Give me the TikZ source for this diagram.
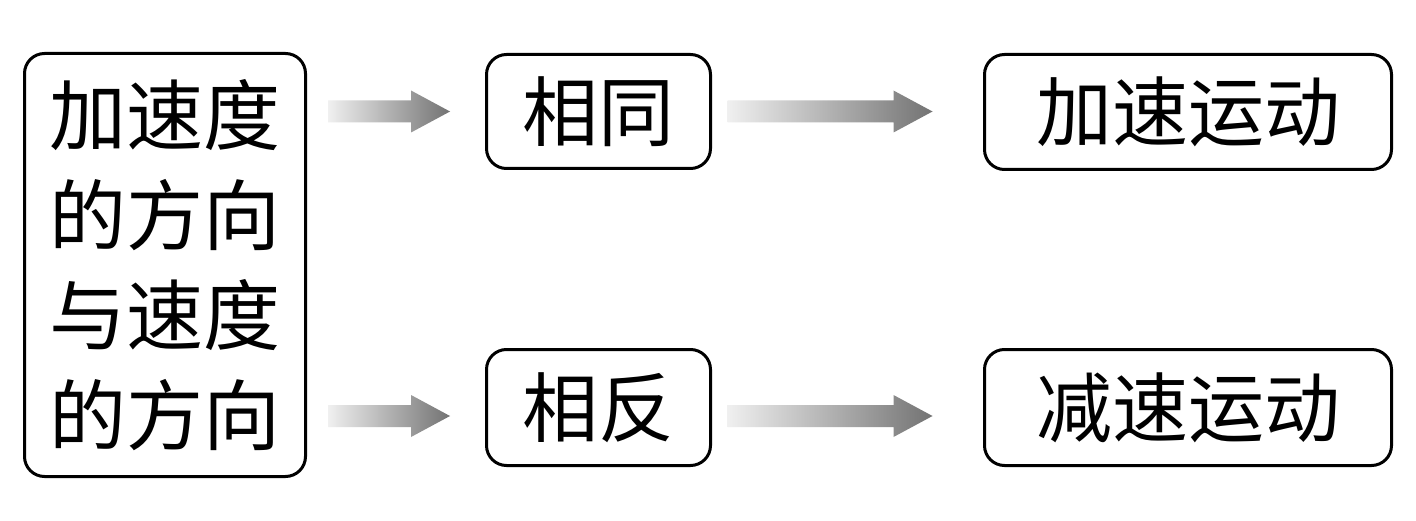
\documentclass[tikz,border=0pt]{standalone}
\usepackage{fontspec}
\newfontfamily\cjk{Noto Sans CJK SC}
\usetikzlibrary{calc}
\newcommand\gradarrow[2]{%
  \shade[garrow] let \p1=(#1), \p2=(#2), \n1={\x2-\x1-39pt} in
    ($(\p1)+(0,-11)$) -- ++(\n1,0) -- ++(0,-10) -- (\p2) -- ++(-39,21)
    -- ++(0,-10) -- ++(-\n1,0) -- cycle;}
\begin{document}
\begin{tikzpicture}[x=1pt,y=-1pt,
  box/.style={draw=black, line width=3pt, rounded corners=20pt, inner sep=0pt,
    font=\cjk\fontsize{76pt}{100pt}\selectfont, align=center},
  garrow/.style={left color=black!6, right color=black!55, draw=none}]
\useasboundingbox[fill=white] (0,0) rectangle (1416,521);
\node[box, minimum width=281pt, minimum height=423pt,
  font=\cjk\fontsize{77pt}{100pt}\selectfont] (q) at (165,265)
  {加速度\\的方向\\与速度\\的方向};
\node[box, minimum width=224pt, minimum height=114pt] (same) at (598.5,111.5) {相同};
\node[box, minimum width=407pt, minimum height=115pt] (acc) at (1188,112) {加速运动};
\node[box, minimum width=224pt, minimum height=116pt] (opp) at (598.5,407.5) {相反};
\node[box, minimum width=407pt, minimum height=116pt] (dec) at (1188,407.5) {减速运动};
\coordinate (a1s) at ($(q.east |- same.west)+(21,0)$);
\coordinate (a1t) at ($(same.west)+(-35,0)$);
\coordinate (a2s) at ($(same.east)+(15.5,0)$);
\coordinate (a2t) at ($(acc.west |- same.east)+(-50.5,0)$);
\coordinate (a3s) at ($(q.east |- opp.west)+(21,8.5)$);
\coordinate (a3t) at ($(opp.west)+(-35,8.5)$);
\coordinate (a4s) at ($(opp.east)+(15.5,8.5)$);
\coordinate (a4t) at ($(dec.west |- opp.east)+(-50.5,8.5)$);
\gradarrow{a1s}{a1t}
\gradarrow{a2s}{a2t}
\gradarrow{a3s}{a3t}
\gradarrow{a4s}{a4t}
\end{tikzpicture}
\end{document}
